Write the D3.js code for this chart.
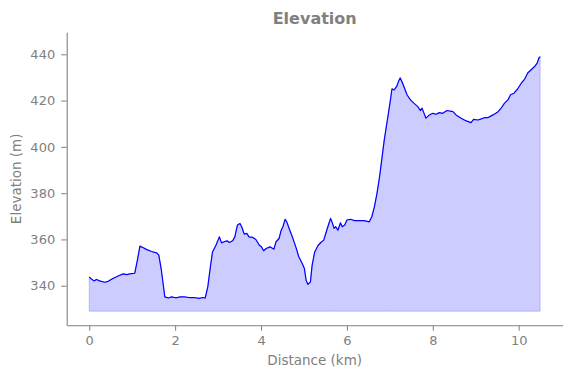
<!DOCTYPE html>
<html>
<head>
<meta charset="utf-8">
<script src="https://cdn.jsdelivr.net/npm/d3@7"></script>
<style>
  body { margin: 0; background: #fff; }
  svg text { font-family: "DejaVu Sans", sans-serif; fill: #808080; }
</style>
</head>
<body>
<script>
// elevation profile
var distanceKm = [
  0.00, 0.05, 0.11, 0.17, 0.24, 0.36, 0.44, 0.55, 0.67, 0.79, 0.87, 0.94, 1.06, 1.12, 1.18, 1.25,
  1.33, 1.45, 1.57, 1.62, 1.68, 1.76, 1.84, 1.92, 1.99, 2.06, 2.11, 2.21, 2.33, 2.44, 2.56, 2.64,
  2.70, 2.76, 2.82, 2.87, 2.95, 3.03, 3.08, 3.14, 3.21, 3.26, 3.34, 3.39, 3.45, 3.51, 3.55, 3.61,
  3.67, 3.72, 3.80, 3.88, 3.96, 4.01, 4.06, 4.12, 4.21, 4.30, 4.35, 4.42, 4.47, 4.51, 4.56, 4.60,
  4.67, 4.73, 4.81, 4.88, 4.96, 5.01, 5.05, 5.09, 5.15, 5.19, 5.25, 5.33, 5.40, 5.46, 5.52, 5.58,
  5.62, 5.66, 5.70, 5.74, 5.79, 5.85, 5.89, 5.95, 6.00, 6.08, 6.18, 6.28, 6.40, 6.52, 6.58, 6.64,
  6.70, 6.76, 6.81, 6.87, 6.93, 6.99, 7.03, 7.05, 7.10, 7.16, 7.20, 7.24, 7.28, 7.34, 7.40, 7.48,
  7.56, 7.65, 7.71, 7.75, 7.79, 7.84, 7.92, 8.00, 8.08, 8.15, 8.23, 8.33, 8.47, 8.54, 8.66, 8.78,
  8.89, 8.95, 9.05, 9.13, 9.20, 9.28, 9.36, 9.44, 9.52, 9.59, 9.67, 9.75, 9.81, 9.89, 9.97, 10.06,
  10.14, 10.21, 10.29, 10.37, 10.43, 10.47, 10.50
];
var elevationM = [
  343.8, 342.9, 342.1, 342.7, 342.1, 341.5, 341.9, 343.1, 344.2, 345.1, 344.8, 345.1, 345.4, 351.0, 357.1, 356.5,
  355.7, 354.8, 354.2, 353.2, 346.7, 335.2, 334.7, 335.2, 334.9, 334.9, 335.2, 335.2, 334.9, 334.9, 334.5, 334.9,
  334.7, 339.5, 348.1, 354.6, 357.5, 361.1, 358.5, 359.0, 359.4, 358.7, 359.4, 361.1, 366.2, 366.9, 365.5, 362.3,
  362.6, 361.1, 360.9, 360.0, 357.5, 356.8, 355.1, 356.1, 356.8, 355.8, 359.0, 360.4, 364.0, 365.5, 368.7, 367.6,
  364.0, 361.1, 356.8, 352.5, 349.6, 347.4, 342.4, 340.6, 341.6, 348.9, 354.6, 357.5, 358.8, 359.7, 363.3, 366.9,
  369.1, 367.2, 364.8, 365.5, 364.0, 367.2, 365.5, 366.2, 368.4, 368.7, 368.1, 368.1, 368.1, 367.6, 369.8, 374.1,
  379.9, 387.1, 394.3, 403.0, 410.2, 417.4, 422.5, 425.1, 424.6, 426.1, 428.2, 429.8, 428.2, 425.4, 422.5, 420.3,
  418.9, 417.4, 415.7, 416.7, 414.8, 412.4, 413.8, 414.5, 414.1, 414.8, 414.5, 415.7, 415.2, 413.8, 412.4, 411.2,
  410.5, 411.9, 411.6, 412.1, 412.6, 412.6, 413.4, 414.2, 415.2, 416.7, 418.9, 420.3, 422.5, 423.2, 424.9, 427.5,
  429.3, 431.9, 433.3, 434.7, 436.2, 438.4, 439.0
];
var fillBase = 329;
var xTicks = [0, 2, 4, 6, 8, 10];
var yTicks = [340, 360, 380, 400, 420, 440];

var width = 571, height = 378;
var margin = {top: 32.3, right: 8.3, bottom: 52.7, left: 66.7};

var svg = d3.select("body").append("svg")
    .attr("width", width)
    .attr("height", height);

var x = d3.scaleLinear()
    .domain([-0.525, 11.025])
    .range([margin.left, width - margin.right]);

var y = d3.scaleLinear()
    .domain([322.9, 449.5])
    .range([height - margin.bottom, margin.top]);

var data = distanceKm.map(function(d, i) { return {km: d, m: elevationM[i]}; });

// shaded area under the profile
var area = d3.area()
    .x(function(d) { return x(d.km); })
    .y0(y(fillBase))
    .y1(function(d) { return y(d.m); });

svg.append("path")
    .datum(data)
    .attr("d", area)
    .attr("fill", "blue")
    .attr("fill-opacity", 0.2)
    .attr("stroke", "blue")
    .attr("stroke-opacity", 0.2)
    .attr("stroke-width", 1);

var line = d3.line()
    .x(function(d) { return x(d.km); })
    .y(function(d) { return y(d.m); });

svg.append("path")
    .datum(data)
    .attr("d", line)
    .attr("fill", "none")
    .attr("stroke", "blue")
    .attr("stroke-width", 1.2)
    .attr("stroke-linejoin", "round");

// axes
var xAxis = svg.append("g")
    .attr("transform", "translate(0," + (height - margin.bottom) + ")")
    .call(d3.axisBottom(x).tickValues(xTicks).tickSize(5.5).tickPadding(5).tickSizeOuter(0));

var yAxis = svg.append("g")
    .attr("transform", "translate(" + margin.left + ",0)")
    .call(d3.axisLeft(y).tickValues(yTicks).tickSize(5.5).tickPadding(6).tickSizeOuter(0));

[xAxis, yAxis].forEach(function(g) {
    g.select(".domain").attr("stroke", "#808080").attr("stroke-width", 1.1);
    g.selectAll(".tick line").attr("stroke", "#808080").attr("stroke-width", 1);
    g.selectAll(".tick text")
        .attr("fill", "#808080")
        .style("font-family", "DejaVu Sans")
        .style("font-size", "13px");
});

svg.append("text")
    .attr("x", (margin.left + width - margin.right) / 2)
    .attr("y", 24)
    .attr("text-anchor", "middle")
    .style("font-size", "16px")
    .style("font-weight", "bold")
    .text("Elevation");

svg.append("text")
    .attr("x", (margin.left + width - margin.right) / 2)
    .attr("y", 365)
    .attr("text-anchor", "middle")
    .style("font-size", "13.5px")
    .text("Distance (km)");

svg.append("text")
    .attr("transform", "translate(21," + (margin.top + height - margin.bottom) / 2 + ") rotate(-90)")
    .attr("text-anchor", "middle")
    .style("font-size", "13.5px")
    .text("Elevation (m)");
</script>
</body>
</html>
